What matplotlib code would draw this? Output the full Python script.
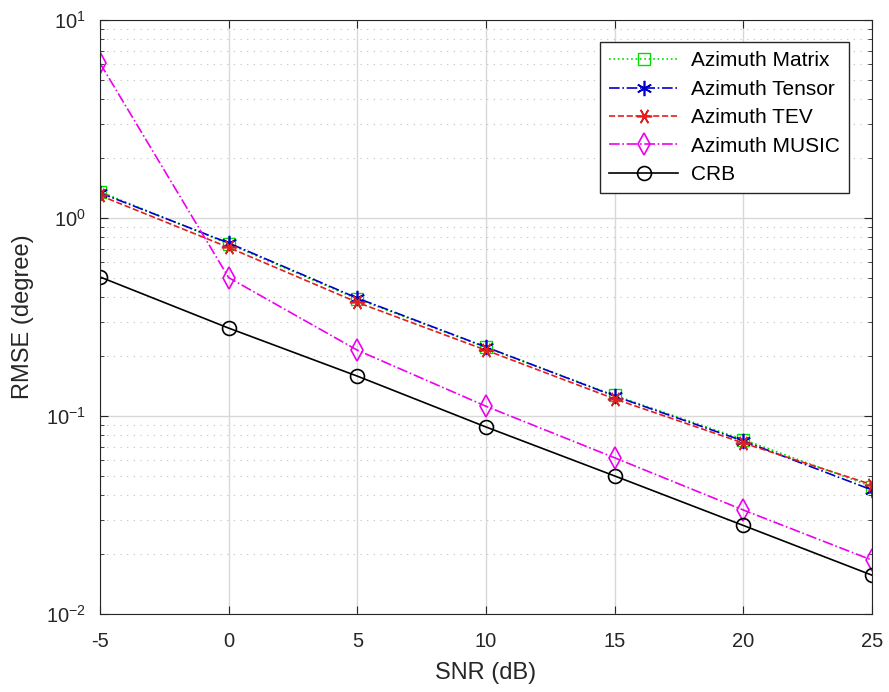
import matplotlib
matplotlib.use('Agg')
import matplotlib.pyplot as plt
from matplotlib.ticker import LogLocator, NullFormatter

plt.rcParams['font.family'] = ['Liberation Sans', 'DejaVu Sans']
plt.rcParams['axes.unicode_minus'] = False

snr = [-5, 0, 5, 10, 15, 20, 25]
rmse_matrix = [1.36, 0.74, 0.39, 0.222, 0.127, 0.076, 0.044]
rmse_tensor = [1.34, 0.748, 0.394, 0.223, 0.126, 0.0748, 0.0423]
rmse_tev = [1.30, 0.71, 0.375, 0.215, 0.122, 0.073, 0.045]
rmse_music = [6.06, 0.50, 0.215, 0.112, 0.0615, 0.0335, 0.0187]
crb = [0.504, 0.278, 0.159, 0.088, 0.0498, 0.028, 0.0157]

fig = plt.figure(figsize=(8.89, 6.92), dpi=100)
ax = fig.add_axes([0.1125, 0.1127, 0.8685, 0.8583])

ax.plot(snr, rmse_matrix, ':', color='#00dd00', marker='s', mfc='none', ms=8, lw=1.2, label='Azimuth Matrix')
ax.plot(snr, rmse_tensor, '-.', color='#0000cc', marker=(6, 2, 0), ms=11, mew=1.2, lw=1.2, label='Azimuth Tensor')
ax.plot(snr, rmse_tev, '--', color='#e02020', marker=(6, 2, 90), ms=11, mew=1.2, lw=1.2, label='Azimuth TEV')
ax.plot(snr, rmse_music, '-.', color='#ee00ee', marker='d', mfc='none', ms=11, mew=1.2, lw=1.2, label='Azimuth MUSIC')
ax.plot(snr, crb, '-', color='black', marker='o', mfc='none', ms=10, mew=1.2, lw=1.2, label='CRB')

ax.set_yscale('log')
ax.set_xlim(-5, 25)
ax.set_ylim(1e-2, 1e1)
ax.set_xticks(snr)
ax.yaxis.set_major_locator(LogLocator(base=10, numticks=10))
ax.yaxis.set_minor_locator(LogLocator(base=10, subs=range(2, 10), numticks=20))
ax.yaxis.set_minor_formatter(NullFormatter())

ax.grid(True, which='major', color='#d8d8d8', lw=1.0, ls='-')
ax.grid(True, which='minor', axis='y', color='#c0c0c0', lw=0.8, ls=(0, (1, 5)))
ax.tick_params(which='both', direction='in', top=True, right=True, labelsize=14.5, colors='#262626')
ax.tick_params(axis='x', pad=13)
ax.tick_params(axis='y', pad=10)
ax.tick_params(which='major', length=6)
ax.tick_params(which='minor', length=3)
for s in ax.spines.values():
    s.set_color('#262626')

ax.set_xlabel('SNR (dB)', fontsize=17, color='#262626', labelpad=8)
ax.set_ylabel('RMSE (degree)', fontsize=17, color='#262626', labelpad=9)

leg = ax.legend(loc='upper right', bbox_to_anchor=(0.970, 0.963), borderaxespad=0, fontsize=15,
                fancybox=False, edgecolor='#262626', framealpha=1, handlelength=3.3,
                labelspacing=0.45, borderpad=0.45, handletextpad=0.6)
leg.get_frame().set_linewidth(1.0)

fig.savefig('out.png', dpi=100)
